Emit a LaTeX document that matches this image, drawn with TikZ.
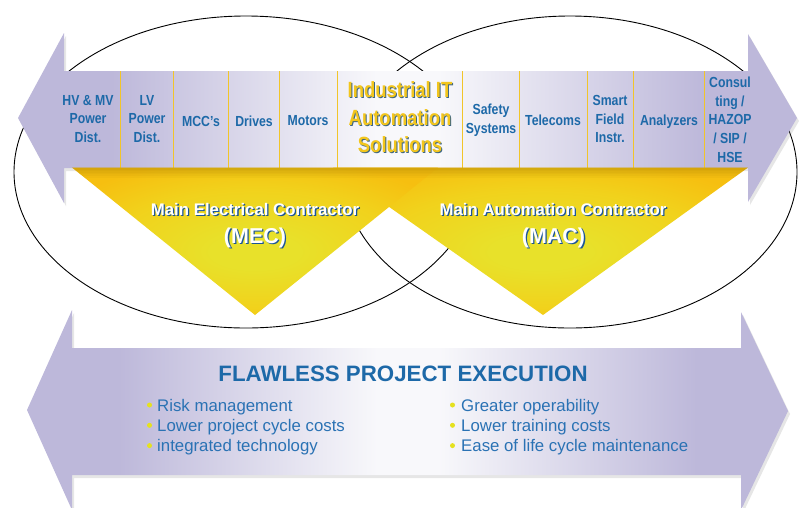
\documentclass[tikz,border=0pt]{standalone}
\usepackage{fontspec}
\setmainfont{Liberation Sans}
\newfontfamily\condfont[FakeStretch=0.84]{Liberation Sans}
\usetikzlibrary{calc}
\definecolor{lav}{HTML}{BDB8DA}
\definecolor{pale}{HTML}{F8F8FB}
\definecolor{ink}{HTML}{1D69A8}
\definecolor{inkl}{HTML}{2A72B4}
\definecolor{navy}{HTML}{1B5596}
\definecolor{gold}{HTML}{F6BF10}
\definecolor{sun}{HTML}{F1D21C}
\definecolor{citron}{HTML}{E8E12A}
\definecolor{amber}{HTML}{F3C61C}
\definecolor{slate}{HTML}{3D6682}
\definecolor{rule}{HTML}{F1C52A}
\definecolor{dotc}{HTML}{E5E11F}
\definecolor{smoke}{HTML}{808080}
\definecolor{umber}{HTML}{8A6A00}
\pgfdeclarehorizontalshading{band}{100bp}{color(0bp)=(lav); color(31bp)=(lav); color(48bp)=(pale); color(52bp)=(pale); color(69bp)=(lav); color(100bp)=(lav)}
\pgfdeclareradialshading{glow}{\pgfpoint{0bp}{-4bp}}{color(0bp)=(citron); color(6bp)=(citron); color(20bp)=(sun); color(30bp)=(gold); color(50bp)=(gold)}
\tikzset{
  ring/.style={draw=black, line width=0.9pt},
  lane/.style={shading=band, draw=none},
  cast/.style={fill=smoke, opacity=0.2},
  wedge/.style={shading=glow, draw=none},
  divider/.style={draw=rule, line width=0.9pt},
  cell/.style={text=ink, align=center, inner sep=0pt, font=\condfont\bfseries\fontsize{14.6}{18.8}\selectfont},
  hero/.style={align=center, inner sep=0pt, font=\condfont\bfseries\fontsize{22}{27.5}\selectfont},
  tag/.style={text=white, inner sep=0pt, anchor=base, font=\bfseries\fontsize{16.8}{20}\selectfont},
  tagbig/.style={tag, font=\bfseries\fontsize{21.5}{25}\selectfont},
  dropped/.style={text=navy, xshift=1.3pt, yshift=-1.3pt},
  head/.style={text=ink, inner sep=0pt, anchor=base, font=\bfseries\fontsize{22.3}{26}\selectfont},
  perk/.style={text=inkl, inner sep=0pt, anchor=base west, font=\fontsize{16.8}{20}\selectfont},
  bul/.style={circle, fill=dotc, inner sep=0pt, minimum size=5pt},
}

\begin{document}
\begin{tikzpicture}[x=1pt,y=-1pt]
  \useasboundingbox (0,0) rectangle (799,507);
  \clip (0,0) rectangle (799,507);
  \def\toparrow{(18,118) -- (64,33) -- (64,71) -- (748,71) -- (748,34) -- (797,118) -- (748,202) -- (748,168) -- (64,168) -- (64,203) -- cycle}
  \def\lowarrow{(27,410) -- (72,310) -- (72,348) -- (741,348) -- (741,312) -- (788,411) -- (741,510) -- (741,475) -- (72,475) -- (72,510) -- cycle}
  \def\wedges{(333,167.5) -- (748,167.5) -- (543,315) -- cycle (72,167.5) -- (438,167.5) -- (255,315) -- cycle}

  % two overlapping scopes
  \draw[ring] (246,172) ellipse [x radius=232pt, y radius=156pt];
  \draw[ring] (570,172) ellipse [x radius=227pt, y radius=156pt];

  % upper arrow and its columns
  \fill[cast, shift={(2,3)}] \toparrow;
  \shade[lane] \toparrow;
  \foreach \x in {120,173,228,279,337,462,519,587,633,704}
    \draw[divider] (\x,71) -- (\x,168);

  % contractor wedges
  \shade[wedge] (333,167.5) -- (748,167.5) -- (543,315) -- cycle;
  \shade[wedge] (72,167.5) -- (438,167.5) -- (255,315) -- cycle;
  \begin{scope}
    \clip \wedges;
    \foreach \k in {1,...,6}
      \fill[umber, opacity=0.05] (70,167) rectangle (750,{168+1.6*\k});
  \end{scope}

  % lower arrow
  \fill[cast, shift={(2,3)}] \lowarrow;
  \shade[lane] \lowarrow;

  \node[cell] (hv) at (88,119) {HV \& MV\\Power\\Dist.};
  \node[cell] (lv) at (147,119) {LV\\Power\\Dist.};
  \node[cell] (mcc) at (201,121.5) {MCC’s};
  \node[cell] (drv) at (254,121.5) {Drives};
  \node[cell] (mot) at (308,121) {Motors};
  \node[hero, text=slate, xshift=1pt, yshift=-1pt] at (400,117.5) {Industrial IT\\Automation\\Solutions};
  \node[hero, text=amber] (iit) at (400,117.5) {Industrial IT\\Automation\\Solutions};
  \node[cell] (saf) at (491,120) {Safety\\Systems};
  \node[cell] (tel) at (553,120.7) {Telecoms};
  \node[cell] (sfi) at (610,119) {Smart\\Field\\Instr.};
  \node[cell] (ana) at (669,122) {Analyzers};
  \node[cell] (con) at (730,119.7) {Consul\\ting /\\HAZOP\\/ SIP /\\HSE};

  \node[tag, dropped] at (255,215) {Main Electrical Contractor};
  \node[tag] (mecname) at (255,215) {Main Electrical Contractor};
  \node[tagbig, dropped] at (255,243.3) {(MEC)};
  \node[tagbig] (mec) at (255,243.3) {(MEC)};
  \node[tag, dropped] at (553,215) {Main Automation Contractor};
  \node[tag] (macname) at (553,215) {Main Automation Contractor};
  \node[tagbig, dropped] at (553.5,243.3) {(MAC)};
  \node[tagbig] (mac) at (553.5,243.3) {(MAC)};

  \node[head] (flaw) at (403,381.5) {FLAWLESS PROJECT EXECUTION};
  \foreach \txt [count=\i] in {Risk management, Lower project cycle costs, integrated technology}{
    \node[bul] (lb\i) at (149.5,{405+20.3*(\i-1)}) {};
    \node[perk] (lt\i) at (157,{411+20.3*(\i-1)}) {\txt};
  }
  \foreach \txt [count=\i] in {Greater operability, Lower training costs, Ease of life cycle maintenance}{
    \node[bul] (rb\i) at (452.5,{405+20.3*(\i-1)}) {};
    \node[perk] (rt\i) at (461,{411+20.3*(\i-1)}) {\txt};
  }
\end{tikzpicture}
\end{document}
